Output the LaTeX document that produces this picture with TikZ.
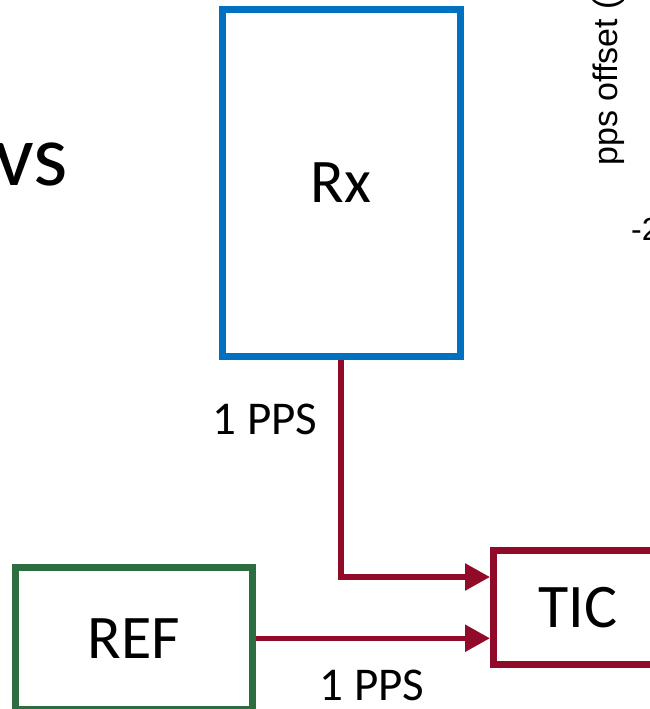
\documentclass[tikz,border=0pt]{standalone}
\usepackage{fontspec}
\setmainfont{Carlito}
\newfontfamily\arialfont{Liberation Sans}
\usetikzlibrary{arrows.meta}
\definecolor{rxblue}{RGB}{0,112,192}
\definecolor{sigred}{RGB}{145,10,40}
\definecolor{refgreen}{RGB}{45,110,65}
\tikzset{
  blockbox/.style={draw, line width=7pt, inner sep=0pt, fill=white, font=\fontsize{62}{70}\selectfont},
  sigline/.style={draw=sigred, line width=5.5pt, line join=miter},
  sigarrow/.style={sigline, -{Triangle[length=25pt,width=26pt]}},
  sig label/.style={font=\fontsize{47}{52}\selectfont, inner sep=0pt},
}
\begin{document}
\begin{tikzpicture}[x=1pt,y=-1pt]
\useasboundingbox (0,0) rectangle (650,709);
\clip (0,0) rectangle (650,709);
% connectors (drawn first, nodes on top)
\coordinate (rxbot) at (341,356);
\coordinate (ticw) at (493.5,607.5);
\coordinate (refe) at (252.5,638.25);
\draw[sigarrow, shorten >=3.5pt] (rxbot) |- ([yshift=30.5pt]ticw);
\draw[sigarrow, shorten >=3.5pt] (refe) -- (refe -| ticw);
% nodes
\node[blockbox, draw=rxblue, minimum width=238pt, minimum height=346pt] (rx) at (341,183) {Rx};
\node[blockbox, draw=sigred, minimum width=169pt, minimum height=114pt] (tic) at (578,607.5) {TIC};
\node[blockbox, draw=refgreen, minimum width=237pt, minimum height=141.5pt] (ref) at (134,638.25) {REF};
% labels
\node[sig label] (l1) at (265,419) {1 PPS};
\node[sig label] (l2) at (372,685) {1 PPS};
\node[font=\fontsize{88}{96}\selectfont, inner sep=0pt, anchor=base east] (vs) at (68,185) {vs};
% partial chart text at right
\node[font=\arialfont\fontsize{34}{40}\selectfont, rotate=90, inner sep=0pt, anchor=base west] (ylab) at (617,166) {pps offset (ns)};
\node[font=\arialfont\fontsize{32}{38}\selectfont, inner sep=0pt, anchor=base west] (tick) at (631,240) {-2};
\end{tikzpicture}
\end{document}
